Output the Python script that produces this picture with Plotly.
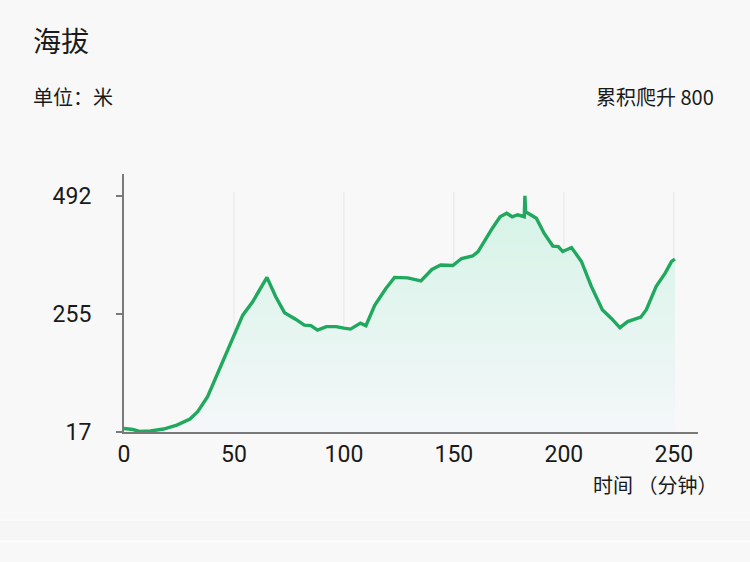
import plotly.graph_objects as go

# ---- data ----
time_min = [0, 4, 7, 12, 18, 24, 30, 33.5, 38, 42.5, 47, 50, 54, 58.5, 61, 65,
            69, 73, 78, 82, 85, 88, 92, 96.5, 100, 103, 107.5, 110, 114, 119,
            123, 129, 135, 140, 144, 149.5, 153.5, 158.5, 161, 164, 167.5, 171,
            174, 176.5, 179, 182, 182.3, 182.6, 187.5, 191, 195, 197.5, 199.5,
            203.5, 208, 212.5, 217.5, 221.5, 225.5, 229, 235, 237.5, 242, 246,
            249, 250.5]
elevation = [24, 22, 18, 19, 23, 31, 43, 58, 88, 135, 182, 212, 252, 279, 299, 328,
             289, 257, 244, 232, 231, 222, 229, 229, 226, 224, 236, 231, 272, 305,
             328, 327, 321, 344, 353, 352, 366, 371, 380, 403, 427, 450,
             457, 450, 454, 450, 492, 460, 447, 417, 391, 390, 380,
             388, 360, 310, 263, 246, 227, 239, 248, 263, 310, 336,
             360, 365]

x_ticks = [0, 50, 100, 150, 200, 250]
y_ticks = [17, 255, 492]
y_tick_labels = ["17", "255", "492"]

title_text = "海拔"
unit_text = "单位：米"
climb_text = "累积爬升 800"
x_title_text = "时间 （分钟）"

# ---- layout geometry ----
W, H = 750, 562
L, R, T, B = 124, 52, 174, 130
PW, PH = W - L - R, H - T - B


def px(xp):
    return (xp - L) / PW


def py(yp):
    return (H - B - yp) / PH


LINE = "#1fa85e"
CJK = "Noto Sans CJK SC"

fig = go.Figure()
fig.add_trace(go.Scatter(
    x=time_min, y=elevation, mode="lines",
    line=dict(color=LINE, width=3.4, shape="linear"),
    fill="tozeroy",
    fillgradient=dict(type="vertical", start=17, stop=470,
                      colorscale=[[0, "rgba(244,247,249,1)"],
                                  [1, "rgba(214,243,231,1)"]]),
    hoverinfo="skip", showlegend=False,
))

# vertical grid lines (stop short of the top like the reference)
shapes = []
for xv in x_ticks[1:]:
    shapes.append(dict(type="line", xref="x", yref="y", x0=xv, x1=xv,
                       y0=17, y1=500, line=dict(color="#e4e6e6", width=1),
                       layer="below"))
# bottom faint band
shapes.append(dict(type="rect", xref="paper", yref="paper",
                   x0=px(-2), x1=px(W + 2), y0=py(541), y1=py(520),
                   fillcolor="#f6f6f6", line=dict(color="#ffffff", width=1),
                   layer="below"))

annotations = [
    dict(text=title_text, x=px(31), y=py(40), xref="paper", yref="paper",
         xanchor="left", yanchor="middle", showarrow=False,
         font=dict(family=CJK, size=28, color="#1a1a1a")),
    dict(text=unit_text, x=px(31), y=py(97), xref="paper", yref="paper",
         xanchor="left", yanchor="middle", showarrow=False,
         font=dict(family=CJK, size=20, color="#1a1a1a")),
    dict(text=climb_text, x=px(716), y=py(97), xref="paper", yref="paper",
         xanchor="right", yanchor="middle", showarrow=False,
         font=dict(family=CJK, size=20, color="#1a1a1a")),
    dict(text=x_title_text, x=px(719), y=py(484), xref="paper", yref="paper",
         xanchor="right", yanchor="middle", showarrow=False,
         font=dict(family=CJK, size=20, color="#1a1a1a")),
]

fig.update_layout(
    width=W, height=H,
    margin=dict(l=L, r=R, t=T, b=B, pad=0),
    paper_bgcolor="#f8f8f8", plot_bgcolor="#f8f8f8",
    shapes=shapes, annotations=annotations,
    xaxis=dict(range=[0, 261], tickvals=x_ticks, showgrid=False,
               zeroline=False, showline=True, linecolor="#7a7a7a", linewidth=2,
               ticks="", ticklabelstandoff=0,
               tickfont=dict(family="Roboto", size=23, color="#1a1a1a")),
    yaxis=dict(range=[17, 536], tickvals=y_ticks, ticktext=y_tick_labels,
               showgrid=False, zeroline=False, showline=True,
               linecolor="#7a7a7a", linewidth=2,
               ticks="outside", ticklen=6, tickwidth=2, tickcolor="#7a7a7a",
               ticklabelstandoff=20,
               tickfont=dict(family="Roboto", size=23, color="#1a1a1a")),
)

fig.write_html(
    "out.html",
    config={"displayModeBar": False},
    post_script="document.body.style.margin='0';document.body.style.background='#f8f8f8';",
)
